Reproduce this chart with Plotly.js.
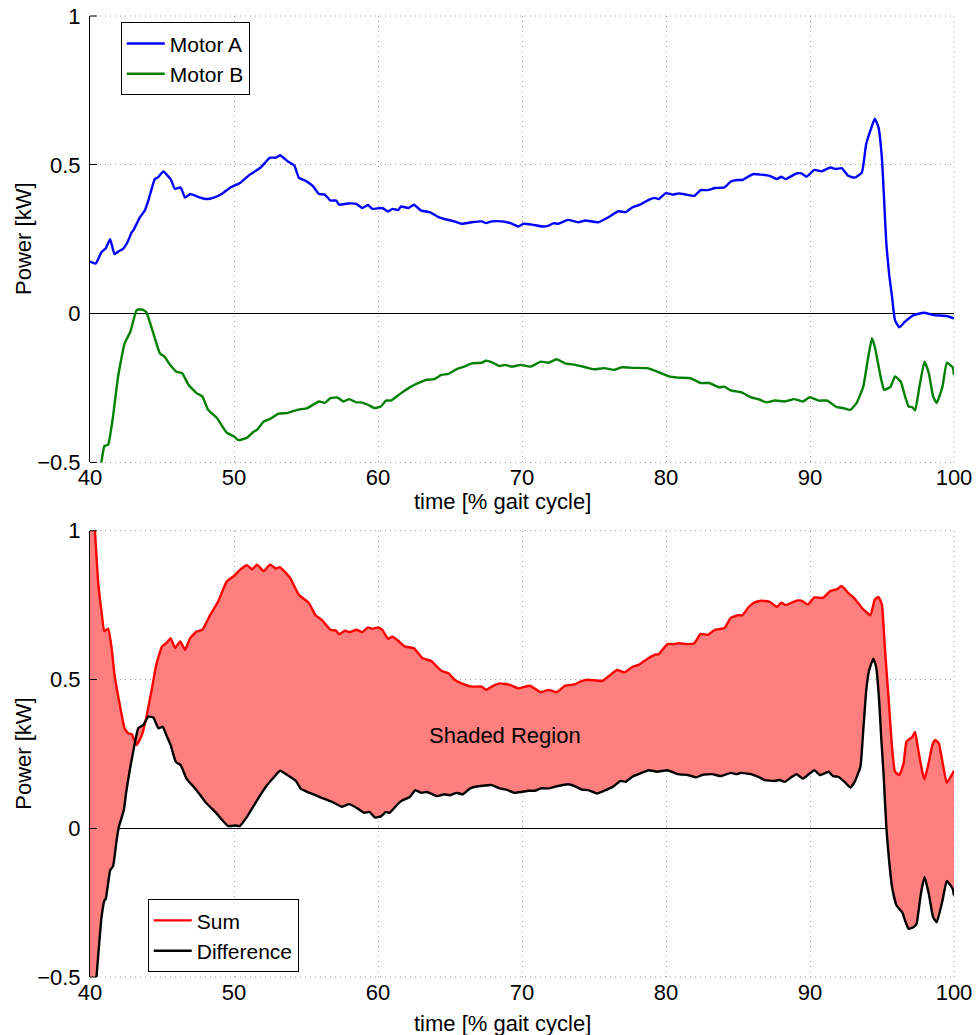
<!DOCTYPE html>
<html>
<head>
<meta charset="utf-8">
<script src="https://cdn.plot.ly/plotly-3.0.1.min.js"></script>
<style>html,body{margin:0;padding:0;background:#fff;}#chart{width:977px;height:1035px;}</style>
</head>
<body>
<div id="chart"></div>
<script>
// ---- data ----
const motorA_x = [40.0,40.1,40.4,40.8,41.1,41.4,41.7,42.0,42.3,42.6,42.9,43.0,43.47,43.8,44.05,44.5,44.7,45.1,45.4,45.6,45.9,46.3,46.6,46.96,47.65,48.1,48.6,49.2,49.75,50.45,51.1,51.85,52.5,52.9,53.2,53.7,54.2,54.5,54.98,55.45,55.9,56.3,56.7,57.1,57.3,57.9,58.5,58.9,59.3,59.6,60.3,60.7,61.0,61.4,61.6,62.1,62.5,63.0,63.6,64.2,64.6,65.3,65.8,66.5,67.2,67.5,67.9,68.6,69.2,69.75,70.1,70.7,71.4,71.85,72.2,72.5,73.2,73.9,74.4,75.3,76.0,76.7,77.2,77.66,78.2,78.7,79.2,79.5,79.99,80.45,80.9,81.4,81.97,82.4,82.9,83.4,84.06,84.5,85.0,85.3,85.8,86.1,86.6,87.2,87.7,88.0,88.3,89.06,89.4,89.76,90.3,90.8,91.4,91.8,92.2,92.65,93.1,93.6,93.9,94.3,94.5,94.76,94.99,95.15,95.3,95.5,95.7,95.9,96.2,96.6,97.2,97.9,98.6,99.5,100];
const motorA_y = [0.175,0.173,0.168,0.207,0.22,0.25,0.20,0.21,0.218,0.24,0.274,0.279,0.324,0.346,0.38,0.452,0.457,0.478,0.463,0.452,0.419,0.424,0.39,0.402,0.39,0.385,0.39,0.404,0.424,0.44,0.467,0.491,0.524,0.524,0.532,0.513,0.497,0.457,0.446,0.43,0.402,0.40,0.38,0.38,0.366,0.37,0.369,0.355,0.365,0.352,0.355,0.343,0.352,0.348,0.36,0.355,0.366,0.346,0.341,0.324,0.318,0.31,0.302,0.307,0.31,0.304,0.31,0.31,0.304,0.293,0.302,0.299,0.293,0.296,0.304,0.302,0.315,0.307,0.313,0.307,0.324,0.344,0.341,0.357,0.366,0.38,0.389,0.385,0.405,0.40,0.404,0.40,0.396,0.415,0.415,0.422,0.424,0.444,0.449,0.449,0.463,0.469,0.467,0.463,0.452,0.46,0.452,0.471,0.471,0.46,0.483,0.478,0.491,0.486,0.489,0.463,0.457,0.474,0.569,0.63,0.655,0.625,0.524,0.38,0.235,0.13,0.056,-0.022,-0.046,-0.027,-0.005,0.003,-0.005,-0.008,-0.016];

const motorB_x = [40.0,40.8,41.0,41.26,41.6,41.95,42.4,42.8,43.24,43.6,43.9,44.4,44.85,45.2,45.56,46.0,46.4,46.84,47.4,47.8,48.2,48.8,49.5,49.98,50.3,50.9,51.3,51.6,52.07,52.5,53.1,53.7,54.4,55.1,55.9,56.3,56.7,57.2,57.6,58.0,58.5,58.8,59.3,59.75,60.2,60.55,60.9,61.6,62.3,62.9,63.4,63.9,64.4,64.9,65.45,66.0,66.5,67.2,67.5,67.99,68.45,68.8,69.3,69.9,70.6,71.3,71.85,72.4,73.0,73.7,74.4,75.0,75.7,76.4,76.96,77.66,78.7,79.4,80.2,80.8,81.7,82.4,83.0,83.7,84.06,84.5,85.2,85.9,86.4,86.96,87.55,88.25,88.9,89.5,89.98,90.6,91.2,91.85,92.3,92.8,93.24,93.7,94.05,94.3,94.5,94.9,95.15,95.6,95.9,96.3,96.6,96.85,97.1,97.3,97.6,97.95,98.25,98.55,98.8,99.2,99.5,99.9,100];
const motorB_y = [-0.75,-0.496,-0.445,-0.44,-0.345,-0.211,-0.10,-0.061,0.012,0.014,0.006,-0.066,-0.133,-0.146,-0.172,-0.195,-0.20,-0.239,-0.267,-0.278,-0.323,-0.35,-0.40,-0.412,-0.425,-0.417,-0.399,-0.39,-0.362,-0.354,-0.336,-0.334,-0.323,-0.317,-0.295,-0.30,-0.284,-0.282,-0.295,-0.287,-0.298,-0.298,-0.306,-0.317,-0.312,-0.292,-0.292,-0.267,-0.245,-0.231,-0.222,-0.22,-0.206,-0.202,-0.187,-0.178,-0.167,-0.165,-0.158,-0.165,-0.176,-0.172,-0.178,-0.172,-0.178,-0.161,-0.165,-0.153,-0.167,-0.172,-0.18,-0.187,-0.183,-0.189,-0.18,-0.182,-0.183,-0.195,-0.211,-0.215,-0.217,-0.233,-0.233,-0.248,-0.245,-0.258,-0.264,-0.281,-0.287,-0.298,-0.292,-0.295,-0.287,-0.295,-0.281,-0.292,-0.292,-0.314,-0.317,-0.323,-0.30,-0.245,-0.144,-0.083,-0.111,-0.211,-0.256,-0.245,-0.211,-0.228,-0.278,-0.312,-0.314,-0.325,-0.245,-0.161,-0.20,-0.278,-0.30,-0.245,-0.165,-0.18,-0.206];

const sum_x = [40.0,40.33,40.56,40.8,41.0,41.26,41.5,41.7,42.07,42.4,42.65,42.9,43.24,43.6,43.9,44.3,44.6,45.0,45.3,45.6,45.9,46.26,46.6,46.96,47.4,47.8,48.35,48.9,49.5,49.98,50.45,50.9,51.26,51.6,52.07,52.5,52.9,53.2,53.9,54.5,55.2,55.65,56.1,56.7,57.1,57.3,57.7,58.0,58.5,58.9,59.3,59.6,59.98,60.3,60.7,61.0,61.4,61.85,62.5,63.1,63.7,64.4,64.9,65.3,65.8,66.5,67.2,67.5,68.0,68.45,69.2,69.75,70.55,71.3,71.85,72.4,73.0,73.7,74.05,74.6,75.57,76.0,76.6,77.1,77.66,78.1,78.7,79.2,79.5,80.1,80.6,80.9,81.4,81.97,82.4,82.9,83.4,84.06,84.5,84.98,85.3,85.7,86.1,86.6,87.2,87.7,88.0,88.3,89.06,89.4,89.86,90.3,90.9,91.4,91.85,92.2,92.65,93.1,93.6,93.9,94.2,94.5,94.76,94.99,95.2,95.47,95.7,95.9,96.2,96.5,96.7,97.1,97.3,97.5,97.8,97.95,98.2,98.5,98.7,98.95,99.2,99.5,99.9,100];
const sum_y = [1.2,1.01,0.83,0.729,0.662,0.671,0.606,0.516,0.415,0.336,0.319,0.316,0.28,0.313,0.37,0.47,0.549,0.611,0.622,0.639,0.606,0.628,0.60,0.639,0.661,0.667,0.717,0.762,0.83,0.847,0.87,0.884,0.87,0.886,0.864,0.886,0.873,0.877,0.841,0.785,0.757,0.717,0.70,0.667,0.664,0.652,0.664,0.659,0.667,0.659,0.675,0.67,0.675,0.667,0.637,0.644,0.63,0.611,0.605,0.571,0.562,0.529,0.521,0.50,0.487,0.476,0.476,0.465,0.479,0.487,0.481,0.47,0.479,0.457,0.465,0.457,0.479,0.484,0.493,0.499,0.495,0.51,0.532,0.524,0.542,0.549,0.569,0.583,0.585,0.619,0.619,0.622,0.619,0.622,0.653,0.65,0.667,0.673,0.707,0.716,0.716,0.741,0.758,0.765,0.761,0.744,0.758,0.75,0.765,0.765,0.752,0.776,0.774,0.797,0.803,0.814,0.791,0.772,0.741,0.727,0.716,0.769,0.777,0.752,0.606,0.427,0.27,0.19,0.179,0.218,0.291,0.307,0.324,0.268,0.19,0.164,0.21,0.28,0.297,0.285,0.223,0.153,0.184,0.193];

const diff_x = [40.0,40.45,40.6,40.8,41.0,41.1,41.4,41.6,41.85,42.0,42.35,42.5,42.76,43.0,43.35,43.7,44.05,44.4,44.75,45.05,45.3,45.6,45.96,46.3,46.7,47.4,48.1,48.7,49.3,49.6,50.1,50.4,50.9,51.6,52.3,52.8,53.2,53.7,54.3,54.65,55.3,56.0,56.8,57.5,58.0,58.6,59.05,59.4,59.8,60.2,60.55,60.8,61.4,61.7,62.2,62.6,63.0,63.4,64.1,64.6,64.97,65.45,65.9,66.4,66.96,67.9,68.45,68.9,69.5,69.97,70.45,70.9,71.3,71.85,72.4,73.2,73.7,74.15,74.6,75.2,75.7,76.3,76.85,77.2,77.66,78.2,78.8,79.4,80.1,80.8,81.5,82.1,82.5,83.2,83.8,84.5,84.9,85.2,85.9,86.4,86.85,87.55,87.9,88.25,88.7,89.06,89.5,89.98,90.3,90.7,91.3,91.6,91.96,92.4,92.8,93.1,93.5,93.7,93.9,94.1,94.4,94.6,94.8,94.95,95.1,95.3,95.47,95.7,96.0,96.4,96.6,96.85,97.2,97.4,97.7,97.95,98.25,98.55,98.8,99.2,99.5,99.9,100];
const diff_y = [-0.8,-0.50,-0.41,-0.299,-0.243,-0.237,-0.141,-0.128,-0.04,0.004,0.061,0.117,0.195,0.257,0.336,0.347,0.375,0.372,0.336,0.341,0.313,0.28,0.223,0.212,0.167,0.128,0.083,0.055,0.021,0.007,0.009,0.007,0.038,0.094,0.145,0.173,0.193,0.179,0.159,0.132,0.118,0.104,0.089,0.072,0.081,0.066,0.052,0.055,0.036,0.04,0.055,0.052,0.083,0.094,0.105,0.128,0.119,0.122,0.108,0.114,0.111,0.119,0.114,0.134,0.141,0.145,0.134,0.13,0.119,0.122,0.126,0.126,0.134,0.134,0.141,0.148,0.141,0.13,0.128,0.117,0.126,0.139,0.159,0.156,0.173,0.184,0.195,0.19,0.195,0.182,0.179,0.171,0.179,0.182,0.175,0.186,0.182,0.186,0.182,0.173,0.162,0.159,0.162,0.156,0.171,0.182,0.167,0.184,0.195,0.179,0.19,0.175,0.173,0.156,0.137,0.156,0.207,0.33,0.46,0.53,0.57,0.54,0.43,0.30,0.19,0.004,-0.097,-0.198,-0.259,-0.282,-0.31,-0.338,-0.332,-0.321,-0.22,-0.164,-0.22,-0.299,-0.316,-0.243,-0.177,-0.203,-0.226];

const xTicks = [40, 50, 60, 70, 80, 90, 100];
const yTicks = [-0.5, 0, 0.5, 1];
const seriesNames = ['Motor A', 'Motor B', 'Sum', 'Difference'];
const xTitle = 'time [% gait cycle]';
const yTitle = 'Power [kW]';
const shadeLabel = 'Shaded Region';

// ---- chart ----
const FONT = 'Liberation Sans, Arial, Helvetica, sans-serif';
const fillX = sum_x.concat(diff_x.slice().reverse());
const fillY = sum_y.concat(diff_y.slice().reverse());
const LW = 2.4;
const SHAPE = {shape: 'spline', smoothing: 0.4};

const traces = [
  {x: motorA_x, y: motorA_y, xaxis: 'x', yaxis: 'y', type: 'scatter', mode: 'lines', name: seriesNames[0],
   line: Object.assign({color: '#0000FF', width: LW}, SHAPE), legend: 'legend'},
  {x: motorB_x, y: motorB_y, xaxis: 'x', yaxis: 'y', type: 'scatter', mode: 'lines', name: seriesNames[1],
   line: Object.assign({color: '#008000', width: LW}, SHAPE), legend: 'legend'},
  {x: fillX, y: fillY, xaxis: 'x2', yaxis: 'y2', type: 'scatter', mode: 'lines', fill: 'toself',
   line: Object.assign({color: 'rgba(0,0,0,0)', width: 0}, SHAPE),
   fillcolor: '#FF7F7F', showlegend: false, hoverinfo: 'skip'},
  {x: sum_x, y: sum_y, xaxis: 'x2', yaxis: 'y2', type: 'scatter', mode: 'lines', name: seriesNames[2],
   line: Object.assign({color: '#FF0000', width: LW}, SHAPE), legend: 'legend2'},
  {x: diff_x, y: diff_y, xaxis: 'x2', yaxis: 'y2', type: 'scatter', mode: 'lines', name: seriesNames[3],
   line: Object.assign({color: '#000000', width: LW}, SHAPE), legend: 'legend2'}
];

const GRIDC = '#9a9a9a', GRIDDASH = '1px,4px';
const gridStyle = {showgrid: true, gridcolor: GRIDC, griddash: GRIDDASH, gridwidth: 1};
const xBase = Object.assign({range: [40, 100], tickvals: xTicks, ticktext: xTicks.map(String), ticks: '',
  showline: false, zeroline: false, tickfont: {family: FONT, size: 22, color: '#000'}, fixedrange: true}, gridStyle);
const yBase = Object.assign({range: [-0.5, 1], tickvals: yTicks, ticks: 'inside', ticklen: 7, tickcolor: '#000',
  showline: true, linecolor: '#000', linewidth: 1, zeroline: true, zerolinecolor: '#000', zerolinewidth: 1,
  tickfont: {family: FONT, size: 22, color: '#000'}, ticklabelstandoff: 4, fixedrange: true}, gridStyle);

const legendBase = {bgcolor: '#fff', bordercolor: '#000', borderwidth: 1, xanchor: 'left', yanchor: 'top',
  font: {family: FONT, size: 21, color: '#000'}, tracegroupgap: 0, itemwidth: 38};

// dotted frame on the top, right and bottom edges of each panel (grid-like)
const frame = [];
[['x', 'y'], ['x2', 'y2']].forEach(function (p) {
  const xr = p[0] + ' domain', yr = p[1] + ' domain';
  const st = {type: 'line', xref: xr, yref: yr, line: {color: GRIDC, width: 1, dash: GRIDDASH}, layer: 'below'};
  frame.push(Object.assign({x0: 0, x1: 1, y0: 1, y1: 1}, st));
  frame.push(Object.assign({x0: 0, x1: 1, y0: 0, y1: 0}, st));
  frame.push(Object.assign({x0: 1, x1: 1, y0: 0, y1: 1}, st));
  frame.push({type: 'line', xref: xr, yref: yr, x0: 0, x1: 0.008, y0: 1, y1: 1, line: {color: '#000', width: 1}});
  frame.push({type: 'line', xref: xr, yref: yr, x0: 0, x1: 0.008, y0: 0, y1: 0, line: {color: '#000', width: 1}});
});

const layout = {
  width: 977, height: 1035,
  margin: {l: 90, r: 23, t: 16, b: 58},
  paper_bgcolor: '#fff', plot_bgcolor: '#fff',
  font: {family: FONT, size: 22, color: '#000'},
  xaxis: Object.assign({}, xBase, {domain: [0, 1], anchor: 'y'}),
  yaxis: Object.assign({}, yBase, {domain: [0.5354, 1], anchor: 'x'}),
  xaxis2: Object.assign({}, xBase, {domain: [0, 1], anchor: 'y2'}),
  yaxis2: Object.assign({}, yBase, {domain: [0, 0.4644], anchor: 'x2'}),
  legend: Object.assign({}, legendBase, {x: 0.0356, y: 0.9934, entrywidth: 118, entrywidthmode: 'pixels'}),
  legend2: Object.assign({}, legendBase, {x: 0.0668, y: 0.0809, entrywidth: 118, entrywidthmode: 'pixels'}),
  showlegend: true,
  shapes: frame,
  annotations: [
    {text: xTitle, xref: 'paper', yref: 'paper', x: 0.4769, y: 0.4943, xanchor: 'center', yanchor: 'middle', showarrow: false, font: {family: FONT, size: 22, color: '#000'}},
    {text: xTitle, xref: 'paper', yref: 'paper', x: 0.4769, y: -0.0483, xanchor: 'center', yanchor: 'middle', showarrow: false, font: {family: FONT, size: 22, color: '#000'}},
    {text: yTitle, xref: 'paper', yref: 'paper', x: -0.0764, y: 0.768, xanchor: 'center', yanchor: 'middle', textangle: -90, showarrow: false, font: {family: FONT, size: 22, color: '#000'}},
    {text: yTitle, xref: 'paper', yref: 'paper', x: -0.0764, y: 0.2323, xanchor: 'center', yanchor: 'middle', textangle: -90, showarrow: false, font: {family: FONT, size: 22, color: '#000'}},
    {text: shadeLabel, xref: 'x2', yref: 'y2', x: 68.8, y: 0.313, xanchor: 'center', yanchor: 'middle', showarrow: false, font: {family: FONT, size: 22, color: '#000'}}
  ]
};

Plotly.newPlot('chart', traces, layout, {displayModeBar: false, staticPlot: true});
</script>
</body>
</html>
